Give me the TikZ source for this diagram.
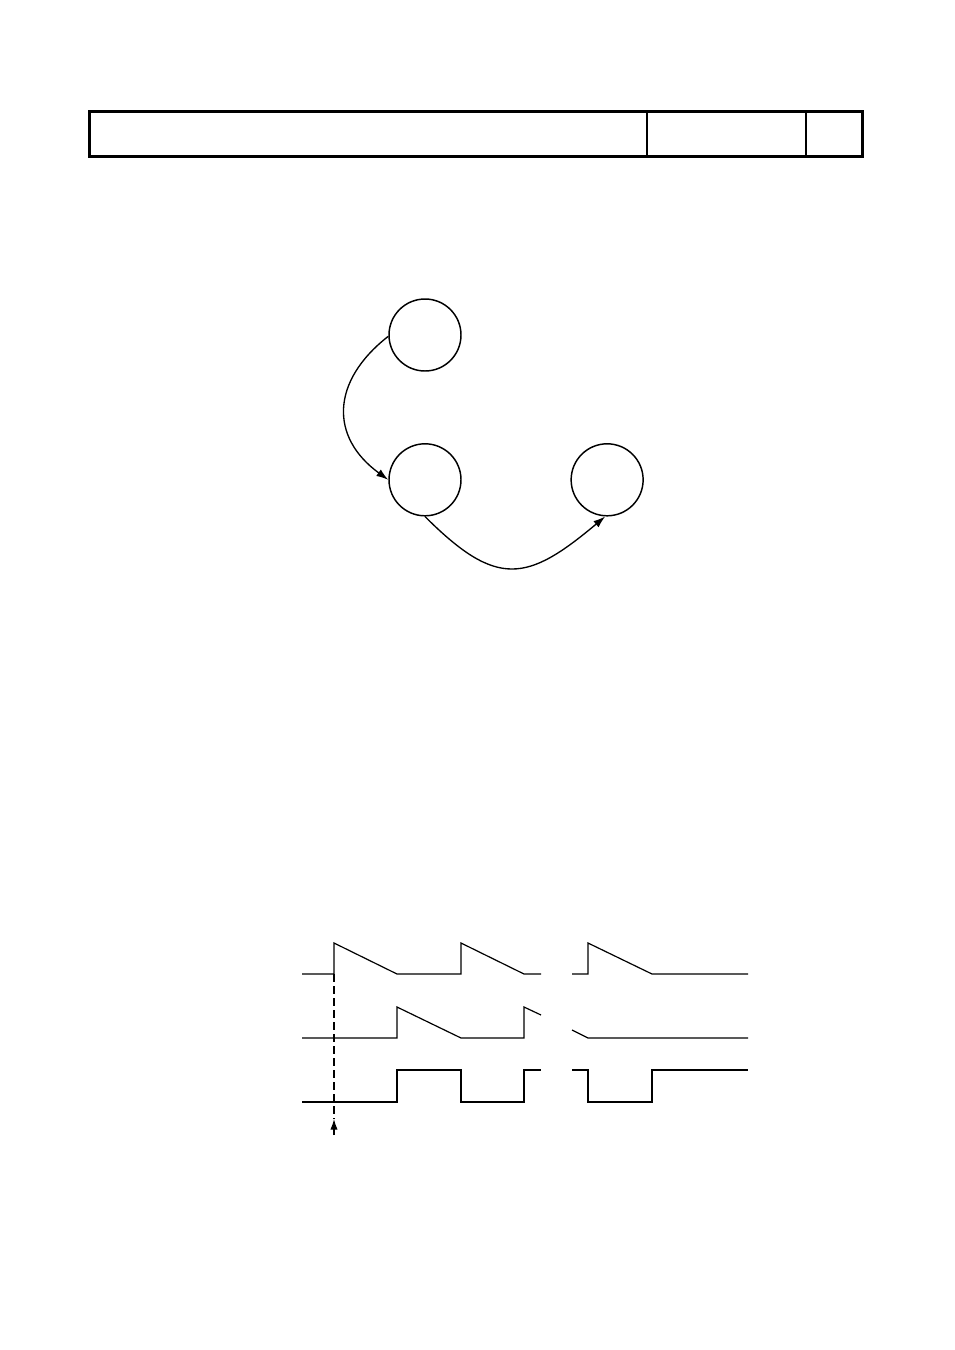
\documentclass[tikz,border=0pt]{standalone}
\usetikzlibrary{arrows.meta,positioning}
\begin{document}
\begin{tikzpicture}[x=0.75pt, y=0.75pt]
            \useasboundingbox (0,0) rectangle (954,-1350);
            % header
            \draw [ line width = 2.25pt ] (89,-111) rectangle (862,-156);
            \draw [ line width = 1.5pt ] (647,-111) -- (647,-156);
            \draw [ line width = 1.5pt ] (806,-111) -- (806,-156);
            % states
            \node (nStart) at (425,-335) [ shape = circle, draw = black, line width = 1.1pt, minimum size = 54pt, inner sep = 0pt ] {};
            \node (nWait) [ below = 53.5pt of nStart, shape = circle, draw = black, line width = 1.1pt, minimum size = 54pt, inner sep = 0pt ] {};
            \node (nDone) [ right = 81.5pt of nWait, shape = circle, draw = black, line width = 1.1pt, minimum size = 54pt, inner sep = 0pt ] {};
            \draw [ -{Latex[length = 9pt, width = 6pt]}, line width = 1pt ] (nStart.182) to [ out = 218, in = 144, looseness = 1.3 ] (nWait.west);
            \draw [ -{Latex[length = 9pt, width = 6pt]}, line width = 1pt ] (nWait.south) to [ out = -45, in = -140, looseness = 1.45 ] (nDone.267);
            % waveforms
            \draw [ line width = 0.9pt ] (302,-974) -- (334,-974) -- (334,-943) -- (397,-974) -- (461,-974) -- (461,-943) -- (524,-974) -- (541,-974);
            \draw [ line width = 0.9pt ] (572,-974) -- (588,-974) -- (588,-943) -- (652,-974) -- (748,-974);
            \draw [ line width = 0.9pt ] (302,-1038) -- (397,-1038) -- (397,-1007) -- (461,-1038) -- (524,-1038) -- (524,-1007) -- (541,-1015);
            \draw [ line width = 0.9pt ] (572,-1030) -- (588,-1038) -- (748,-1038);
            \draw [ line width = 0.9pt ] (302,-1102) -- (397,-1102) -- (397,-1070) -- (461,-1070) -- (461,-1102) -- (524,-1102) -- (524,-1070) -- (541,-1070);
            \draw [ line width = 0.9pt ] (572,-1070) -- (588,-1070) -- (588,-1102) -- (652,-1102) -- (652,-1070) -- (748,-1070);
            % trigger
            \coordinate (cTrigTop) at (334,-974);
            \coordinate (cTrigTip) at (334,-1119);
            \coordinate (cTrigBot) at (334,-1135);
            \draw [ line width = 0.9pt, dash pattern = on 6pt off 3pt ] (cTrigTop) -- (cTrigTip);
            \draw [ -{Latex[length = 8pt, width = 5.5pt]}, line width = 0.9pt ] (cTrigBot) -- (cTrigTip);
        \end{tikzpicture}
\end{document}
